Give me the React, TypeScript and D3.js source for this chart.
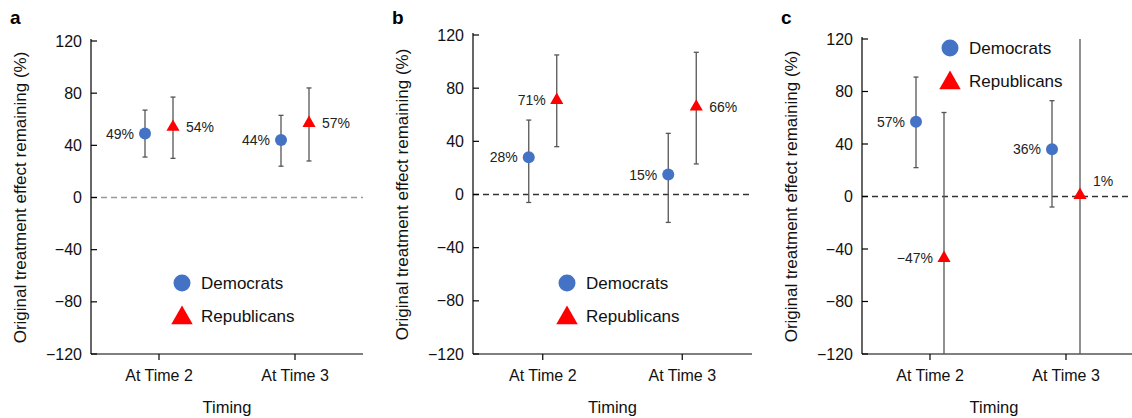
import React from 'react';
import * as d3 from 'd3';

// categories and ticks shared by the three panels
const timings = ['At Time 2', 'At Time 3'];
const yTicks = [-120, -80, -40, 0, 40, 80, 120];
const groups = ['Democrats', 'Republicans'];

// estimate and 95% CI (percent of original effect remaining)
const panelADem = [
  { t: 'At Time 2', est: 49, lo: 31, hi: 67 },
  { t: 'At Time 3', est: 44, lo: 24, hi: 63 },
];
const panelARep = [
  { t: 'At Time 2', est: 54, lo: 30, hi: 77 },
  { t: 'At Time 3', est: 57, lo: 28, hi: 84 },
];
const panelBDem = [
  { t: 'At Time 2', est: 28, lo: -6, hi: 56 },
  { t: 'At Time 3', est: 15, lo: -21, hi: 46 },
];
const panelBRep = [
  { t: 'At Time 2', est: 71, lo: 36, hi: 105 },
  { t: 'At Time 3', est: 66, lo: 23, hi: 107 },
];
const panelCDem = [
  { t: 'At Time 2', est: 57, lo: 22, hi: 91 },
  { t: 'At Time 3', est: 36, lo: -8, hi: 73 },
];
const panelCRep = [
  { t: 'At Time 2', est: -47, lo: -160, hi: 64 },
  { t: 'At Time 3', est: 1, lo: -200, hi: 200 },
];

const BLUE = '#4472c4';
const RED = '#ff0000';
const FONT = '"Liberation Sans", Arial, Helvetica, sans-serif';

const fmt = (v: number) => (v < 0 ? '\u2212' + Math.abs(v) : String(v)) + '%';

type Pt = { t: string; est: number; lo: number; hi: number };

const panels = [
  {
    letter: 'a', dem: panelADem, rep: panelARep,
    left: 91, right: 363, top: 41, bottom: 354,
    zeroColor: '#999', legend: [182, 283],
    demSide: ['l', 'l'], repSide: ['r', 'r'],
  },
  {
    letter: 'b', dem: panelBDem, rep: panelBRep,
    left: 473, right: 752, top: 35, bottom: 354,
    zeroColor: '#333', legend: [567, 283],
    demSide: ['l', 'l'], repSide: ['l', 'r'],
  },
  {
    letter: 'c', dem: panelCDem, rep: panelCRep,
    left: 862, right: 1134, top: 39, bottom: 354,
    zeroColor: '#333', legend: [950, 48],
    demSide: ['l', 'l'], repSide: ['l', 'ru'],
  },
];

const triSmall = d3.symbol(d3.symbolTriangle, 75)()!;
const triBig = d3.symbol(d3.symbolTriangle, 200)()!;

function Panel({ p, idx }: { p: typeof panels[number]; idx: number }) {
  const x = d3.scalePoint<string>().domain(timings).range([p.left, p.right]).padding(0.5);
  const y = d3.scaleLinear().domain([-120, 120]).range([p.bottom, p.top]);
  const off = 14;
  const clipId = `clip-${p.letter}`;

  const bar = (d: Pt, cx: number, key: string) => {
    const lo = Math.max(d.lo, -120);
    const hi = Math.min(d.hi, 120);
    return (
      <g key={key} stroke="#555" strokeWidth={1.3}>
        <line x1={cx} x2={cx} y1={y(lo)} y2={y(hi)} />
        {d.hi <= 120 && <line x1={cx - 2.5} x2={cx + 2.5} y1={y(d.hi)} y2={y(d.hi)} />}
        {d.lo >= -120 && <line x1={cx - 2.5} x2={cx + 2.5} y1={y(d.lo)} y2={y(d.lo)} />}
      </g>
    );
  };

  const label = (d: Pt, cx: number, side: string, key: string) => {
    let tx = cx - 11;
    let ty = y(d.est);
    let anchor = 'end';
    if (side === 'r') { tx = cx + 13; anchor = 'start'; }
    if (side === 'ru') { tx = cx + 13; ty = y(d.est) - 14; anchor = 'start'; }
    return (
      <text key={key} x={tx} y={ty} textAnchor={anchor} dominantBaseline="central"
        fontSize={14} fill="#222">{fmt(d.est)}</text>
    );
  };

  const [lx, ly] = p.legend;
  const axisMid = (p.top + p.bottom) / 2;
  const yLabelX = p.left - 71;

  return (
    <g fontFamily={FONT}>
      <defs>
        <clipPath id={clipId}>
          <rect x={p.left} y={p.top} width={p.right - p.left + 10} height={p.bottom - p.top} />
        </clipPath>
      </defs>
      <text x={p.left - 81 + (idx === 0 ? 0 : 0)} y={24} fontSize={19} fontWeight="bold" fill="#000">{p.letter}</text>

      {/* zero line */}
      <line x1={p.left} x2={p.right} y1={y(0)} y2={y(0)} stroke={p.zeroColor}
        strokeWidth={1.5} strokeDasharray="6,4" />

      {/* axes */}
      <line x1={p.left} x2={p.left} y1={p.top - 2} y2={p.bottom} stroke="#000" strokeWidth={1.2} />
      <line x1={p.left} x2={p.right} y1={p.bottom} y2={p.bottom} stroke="#000" strokeWidth={1.2} />
      {yTicks.map((t) => (
        <g key={t}>
          <line x1={p.left} x2={p.left + 6} y1={y(t)} y2={y(t)} stroke="#000" strokeWidth={1.2} />
          <text x={p.left - 9} y={y(t)} textAnchor="end" dominantBaseline="central" fontSize={16} fill="#111">
            {t < 0 ? '\u2212' + Math.abs(t) : t}
          </text>
        </g>
      ))}
      {timings.map((t) => (
        <g key={t}>
          <line x1={x(t)!} x2={x(t)!} y1={p.bottom} y2={p.bottom + 6} stroke="#000" strokeWidth={1.2} />
          <text x={x(t)!} y={381} textAnchor="middle" fontSize={16} fill="#111">{t}</text>
        </g>
      ))}
      <text x={(p.left + Math.min(p.right, 1132)) / 2 + (idx === 2 ? -3 : 0)} y={413} textAnchor="middle" fontSize={16.5} fill="#111">Timing</text>
      <text transform={`translate(${yLabelX},${axisMid}) rotate(-90)`} textAnchor="middle"
        dominantBaseline="central" fontSize={17} fill="#111">
        Original treatment effect remaining (%)
      </text>

      {/* error bars */}
      <g clipPath={`url(#${clipId})`}>
        {p.dem.map((d, i) => bar(d, x(d.t)! - off, `db${i}`))}
        {p.rep.map((d, i) => bar(d, x(d.t)! + off, `rb${i}`))}
      </g>

      {/* markers */}
      {p.dem.map((d, i) => (
        <circle key={`dc${i}`} cx={x(d.t)! - off} cy={y(d.est)} r={6} fill={BLUE} />
      ))}
      {p.rep.map((d, i) => (
        <path key={`rt${i}`} d={triSmall} transform={`translate(${x(d.t)! + off},${y(d.est)})`} fill={RED} />
      ))}
      {p.dem.map((d, i) => label(d, x(d.t)! - off, p.demSide[i], `dl${i}`))}
      {p.rep.map((d, i) => label(d, x(d.t)! + off, p.repSide[i], `rl${i}`))}

      {/* legend */}
      <circle cx={lx} cy={ly} r={8.5} fill={BLUE} />
      <text x={lx + 19} y={ly} dominantBaseline="central" fontSize={17} fill="#111">{groups[0]}</text>
      <path d={triBig} transform={`translate(${lx},${ly + 35})`} fill={RED} />
      <text x={lx + 19} y={ly + 33} dominantBaseline="central" fontSize={17} fill="#111">{groups[1]}</text>
    </g>
  );
}

export default function App() {
  return (
    <svg width={1132} height={418} style={{ position: 'absolute', left: 0, top: 0, background: '#fff' }}>
      <rect width={1132} height={418} fill="#fff" />
      {panels.map((p, i) => (
        <Panel key={p.letter} p={p} idx={i} />
      ))}
    </svg>
  );
}
